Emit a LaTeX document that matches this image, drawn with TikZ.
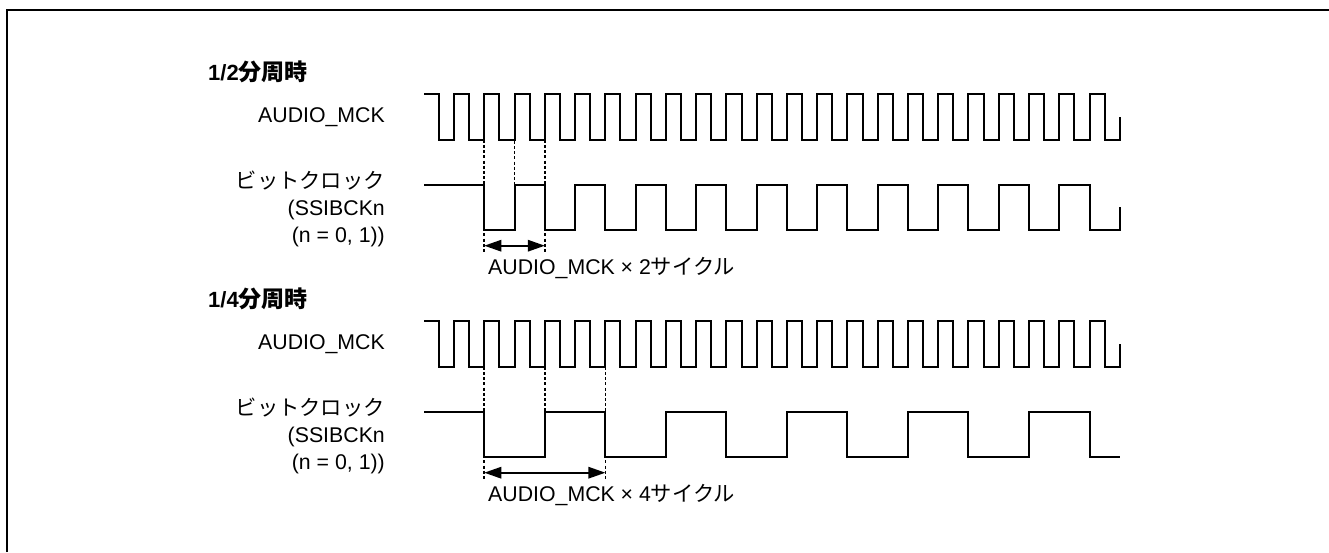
\documentclass[tikz,border=0pt]{standalone}
\usepackage{fontspec}
\setmainfont{Liberation Sans}
\newfontfamily\jpfont{Noto Sans CJK JP}
\newfontfamily\jpbold{Noto Sans CJK JP Bold}
\usetikzlibrary{arrows.meta,calc,positioning}

\tikzset{
  wave/.style={black,line width=2pt,line join=miter},
  guide/.style={black,line width=1.7pt,dash pattern=on 3pt off 2.2pt},
  span/.style={black,line width=1.6pt,{Triangle[length=17pt,width=11.5pt]}-{Triangle[length=17pt,width=11.5pt]}},
  siglabel/.style={font=\fontsize{21.3pt}{27pt}\selectfont,align=right,anchor=east,inner sep=0pt},
  titlelabel/.style={font=\fontsize{22pt}{26pt}\selectfont\bfseries,anchor=base west,inner sep=0pt},
  spanlabel/.style={font=\fontsize{21.3pt}{26pt}\selectfont,anchor=base west,inner sep=0pt}
}
% half period of AUDIO_MCK and its first rising edge
\newcommand{\hp}{15.13}
\newcommand{\xz}{484.3}

\begin{document}
\begin{tikzpicture}[x=1pt,y=-1pt]
  \useasboundingbox (0,0) rectangle (1329,552);
  % open frame, top and left only
  \draw[black,line width=1.8pt] (6.7,552) -- (6.7,9.6) -- (1329,9.6);

  %% ---------------------------------------------------------------
  %% PANEL 1: 1/2 division
  %% ---------------------------------------------------------------
  \begin{scope}[shift={(0,0)}]
    \node[titlelabel] (titleA) at (208,80) {1/2{\fontsize{23pt}{26pt}\selectfont\jpbold 分周時}};
    \node[siglabel] (mckA) at (385,117) {AUDIO\_MCK};
    \node[siglabel] (bckA) at (385,209) {{\jpfont ビットクロック}\\(SSIBCKn\\(n = 0, 1))};
    % master clock
    \draw[wave] (424,94) -- (\xz-3*\hp,94)
      \foreach \k in {-3,-1,...,39} {
        -- (\xz+\k*\hp,139.7) -- (\xz+\k*\hp+\hp,139.7) -- (\xz+\k*\hp+\hp,94) -- (\xz+\k*\hp+2*\hp,94)
      } -- (\xz+41*\hp,139.7) -- (\xz+42*\hp,139.7) -- (\xz+42*\hp,117);
    % bit clock
    \draw[wave] (424,185) -- (\xz,185)
      \foreach \k in {0,4,...,36} {
        -- (\xz+\k*\hp,230.3) -- (\xz+\k*\hp+2*\hp,230.3) -- (\xz+\k*\hp+2*\hp,185) -- (\xz+\k*\hp+4*\hp,185)
      } -- (\xz+40*\hp,230.3) -- (\xz+42*\hp,230.3) -- (\xz+42*\hp,207);
    % cycle markers
    \coordinate (aL) at (\xz,245.7);
    \coordinate (aR) at (\xz+4*\hp,245.7);
    \draw[guide] (\xz,139.7) -- (\xz,253);
    \draw[guide] (\xz+2*\hp,120) -- (\xz+2*\hp,207);
    \draw[guide] (\xz+4*\hp,139.7) -- (\xz+4*\hp,253);
    \draw[span] (aL) -- (aR);
    \node[spanlabel] (cycA) at (488,274.5) {AUDIO\_MCK × 2{\jpfont サイクル}};
  \end{scope}

  %% ---------------------------------------------------------------
  %% PANEL 2: 1/4 division
  %% ---------------------------------------------------------------
  \begin{scope}[shift={(0,227)}]
    \node[titlelabel] (titleB) at (208,80) {1/4{\fontsize{23pt}{26pt}\selectfont\jpbold 分周時}};
    \node[siglabel] (mckB) at (385,117) {AUDIO\_MCK};
    \node[siglabel] (bckB) at (385,209) {{\jpfont ビットクロック}\\(SSIBCKn\\(n = 0, 1))};
    % master clock
    \draw[wave] (424,94) -- (\xz-3*\hp,94)
      \foreach \k in {-3,-1,...,39} {
        -- (\xz+\k*\hp,139.7) -- (\xz+\k*\hp+\hp,139.7) -- (\xz+\k*\hp+\hp,94) -- (\xz+\k*\hp+2*\hp,94)
      } -- (\xz+41*\hp,139.7) -- (\xz+42*\hp,139.7) -- (\xz+42*\hp,117);
    % bit clock
    \draw[wave] (424,185) -- (\xz,185)
      \foreach \k in {0,8,...,32} {
        -- (\xz+\k*\hp,230.3) -- (\xz+\k*\hp+4*\hp,230.3) -- (\xz+\k*\hp+4*\hp,185) -- (\xz+\k*\hp+8*\hp,185)
      } -- (\xz+40*\hp,230.3) -- (\xz+42*\hp,230.3);
    % cycle markers
    \coordinate (bL) at (\xz,245.7);
    \coordinate (bR) at (\xz+8*\hp,245.7);
    \draw[guide] (\xz,139.7) -- (\xz,253);
    \draw[guide] (\xz+4*\hp,139.7) -- (\xz+4*\hp,207);
    \draw[guide] (\xz+8*\hp,139.7) -- (\xz+8*\hp,253);
    \draw[span] (bL) -- (bR);
    \node[spanlabel] (cycB) at (488,274.5) {AUDIO\_MCK × 4{\jpfont サイクル}};
  \end{scope}
\end{tikzpicture}
\end{document}
